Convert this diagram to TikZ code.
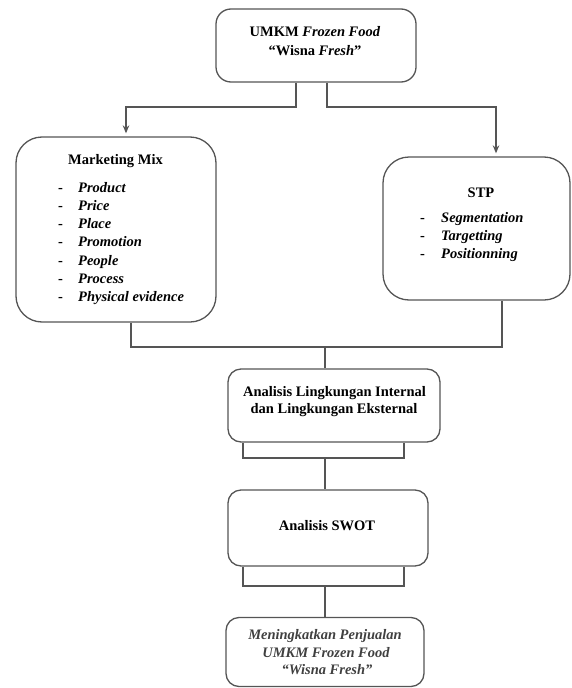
\documentclass[tikz,border=0pt]{standalone}
\usepackage{fontspec}
\setmainfont{Liberation Serif}
\usetikzlibrary{arrows.meta,calc}
\definecolor{linegray}{HTML}{555555}
\definecolor{softtext}{HTML}{404040}
\begin{document}
\begin{tikzpicture}[x=1pt,y=-1pt,
  box/.style={draw=linegray, line width=1.3pt, rounded corners=#1, inner sep=0pt},
  box/.default=14pt,
  conn/.style={draw=linegray, line width=1.3pt},
  arr/.style={conn, -{Stealth[length=8pt,width=6.5pt]}, shorten >=3pt},
  txt/.style={font=\fontsize{14.5}{17.5}\selectfont\bfseries, inner sep=0pt, anchor=base},
  item/.style={font=\fontsize{14.5}{17.5}\selectfont\bfseries\itshape, inner sep=0pt, anchor=base west},
  dashitem/.style={font=\fontsize{14.5}{17.5}\selectfont\bfseries, inner sep=0pt, anchor=base west},
  fintxt/.style={font=\fontsize{14.5}{17.5}\selectfont\bfseries\itshape, text=softtext, inner sep=0pt, anchor=base}
]
\useasboundingbox (0,0) rectangle (571,688);

% boxes
\node[box=15pt, minimum width=200pt, minimum height=73pt] (top) at (316,45.5) {};
\node[box=26pt, minimum width=200pt, minimum height=185pt] (mm) at (116,229.5) {};
\node[box=26pt, minimum width=187pt, minimum height=143pt] (stp) at (476.5,228.5) {};
\node[box=13pt, minimum width=212pt, minimum height=73pt] (ali) at (334,405.5) {};
\node[box=13pt, minimum width=200pt, minimum height=76pt] (swot) at (328,528) {};
\node[box=13pt, minimum width=198pt, minimum height=69pt] (fin) at (325,652) {};

% helper coordinates
\coordinate (xa) at (296,0);
\coordinate (xb) at (327,0);
\coordinate (xc) at (126,0);
\coordinate (xd) at (496,0);
\coordinate (xe) at (131,0);
\coordinate (xf) at (502,0);
\coordinate (xg) at (243,0);
\coordinate (xh) at (404,0);
\coordinate (h1) at (0,107);
\coordinate (j1) at (325,347);
\coordinate (j2) at (325,458);
\coordinate (j3) at (325,586);

% connectors
\draw[arr] (top.south -| xa) |- (h1 -| xc) -- (mm.north -| xc);
\draw[arr] (top.south -| xb) |- (h1 -| xd) -- (stp.north -| xd);
\draw[conn] (mm.south -| xe) |- (j1) -| (stp.south -| xf);
\draw[conn] (j1) -- (ali.north -| j1);
\draw[conn] (ali.south -| xg) |- (j2) -| (ali.south -| xh);
\draw[conn] (j2) -- (swot.north -| j2);
\draw[conn] (swot.south -| xg) |- (j3) -| (swot.south -| xh);
\draw[conn] (j3) -- (fin.north -| j3);

% texts
\node[txt] (t1) at (315,36) {UMKM \textit{Frozen Food}};
\node[txt] (t2) at (315,55) {“Wisna \textit{Fresh}”};

\node[txt] (mmt) at (115.5,164) {Marketing Mix};
\foreach \w [count=\i from 0] in {Product,Price,Place,Promotion,People,Process,Physical evidence} {
  \node[dashitem] (mmd\i) at (58,192+18.3*\i) {-};
  \node[item] (mmi\i) at (78,192+18.3*\i) {\w};
}

\node[txt] (stpt) at (481,197) {STP};
\foreach \w [count=\i from 0] in {Segmentation,Targetting,Positionning} {
  \node[dashitem] (stpd\i) at (420,222+18*\i) {-};
  \node[item] (stpi\i) at (441,222+18*\i) {\w};
}

\node[txt] (a1) at (334.5,396) {Analisis Lingkungan Internal};
\node[txt] (a2) at (334,413) {dan Lingkungan Eksternal};

\node[txt] (sw) at (327,530) {Analisis SWOT};

\node[fintxt] (f1) at (325,639) {Meningkatkan Penjualan};
\node[fintxt] (f2) at (326,657) {UMKM Frozen Food};
\node[fintxt] (f3) at (327,674) {“Wisna Fresh”};
\end{tikzpicture}
\end{document}
